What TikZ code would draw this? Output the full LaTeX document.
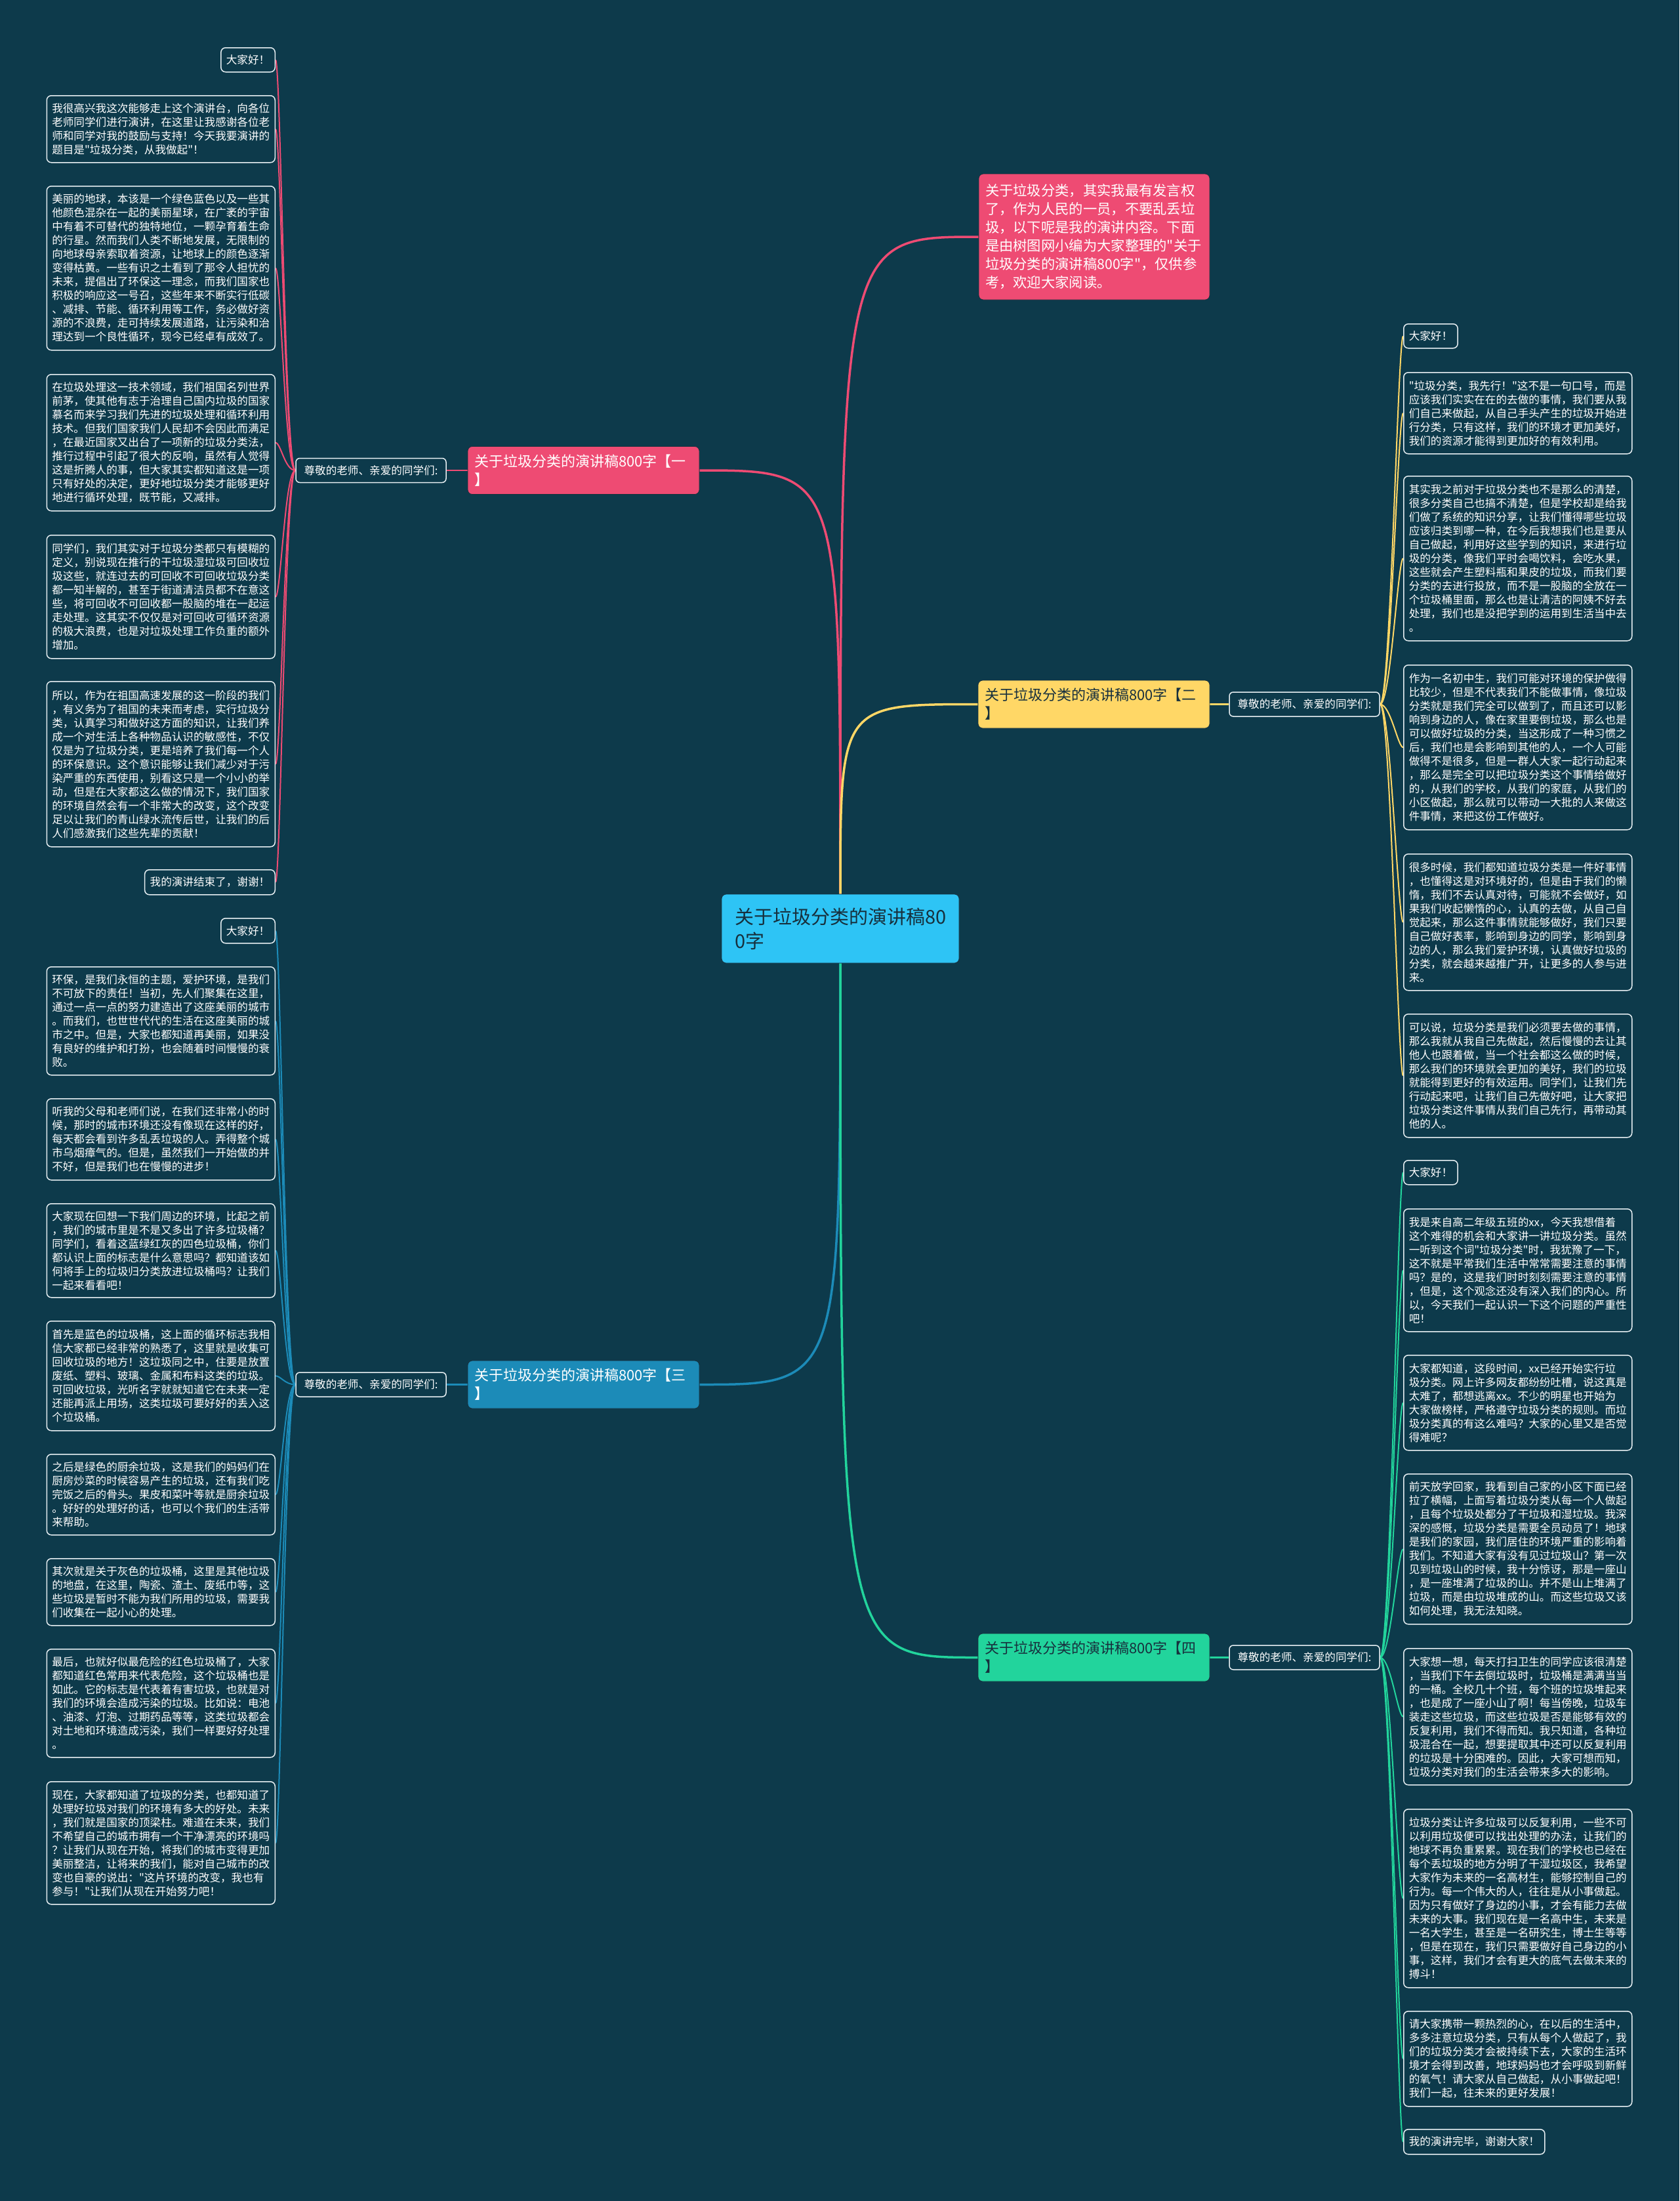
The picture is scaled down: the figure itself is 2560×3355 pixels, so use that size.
\documentclass[tikz,border=0pt]{standalone}
\usepackage{fontspec}
\setmainfont{Noto Sans CJK SC}[Ligatures=TeXOff]
\usetikzlibrary{calc}
\definecolor{bgc}{HTML}{0D3A4B}
\definecolor{pinkc}{HTML}{EE4B73}
\definecolor{yelc}{HTML}{FFD766}
\definecolor{bluec}{HTML}{1C8BB8}
\definecolor{greenc}{HTML}{22D49C}
\definecolor{cyanc}{HTML}{2EC4F5}
\definecolor{darktext}{HTML}{17303D}
\definecolor{leafline}{HTML}{E6EEF2}
\newcommand\leaffont{\fontsize{16.6}{21}\selectfont}
\newcommand\branchfont{\fontsize{22}{28}\selectfont}
\newcommand\introfont{\fontsize{21.3}{28}\selectfont}
\newcommand\centerfont{\fontsize{29}{37}\selectfont}
\pgfdeclarelayer{bg}
\pgfdeclarelayer{edges}
\pgfsetlayers{bg,edges,main}
\tikzset{
  leafbox/.style={draw=leafline, line width=1.5pt, rounded corners=7pt, fill=bgc, text=white, font=\leaffont, align=left, inner xsep=8pt, inner ysep=3pt},
  wide/.style={text width=332pt},
  labbox/.style={draw=leafline, line width=1.5pt, rounded corners=6pt, fill=bgc, text=white, font=\leaffont, inner xsep=8pt, minimum height=37pt, minimum width=229pt},
  branchbox/.style={rounded corners=7pt, draw=darktext, line width=0.8pt, font=\branchfont, align=left, text width=333pt, inner xsep=10pt, minimum height=73pt},
  mainln/.style={line width=3.5pt},
  subln/.style={line width=2.5pt},
  leafln/.style={line width=2pt}
}
\begin{document}
\begin{tikzpicture}[x=1pt,y=-1pt]
\begin{pgfonlayer}{bg}
\fill[bgc] (0,0) rectangle (2560,3355);
\end{pgfonlayer}
\useasboundingbox (0,0) rectangle (2560,3355);

% center and intro
\node[rounded corners=7pt, draw=darktext, line width=0.8pt, fill=cyanc, text=darktext, font=\centerfont, align=left, text width=322pt, inner xsep=20pt, minimum height=105pt] (c) at (1281,1415.5) {关于垃圾分类的演讲稿80\\0字};
\node[rounded corners=7pt, draw=darktext, line width=0.8pt, fill=pinkc, text=white, font=\introfont, align=left, text width=332pt, inner xsep=10pt, minimum height=192pt] (intro) at (1668,361) {关于垃圾分类，其实我最有发言权\\了，作为人民的一员，不要乱丢垃\\圾，以下呢是我的演讲内容。下面\\是由树图网小编为大家整理的"关于\\垃圾分类的演讲稿800字"，仅供参\\考，欢迎大家阅读。};

% branches
\node[branchbox, fill=pinkc, text=white] (b1) at (889.5,717) {关于垃圾分类的演讲稿800字【一\\】};
\node[branchbox, fill=yelc, text=darktext] (b2) at (1667.5,1073.5) {关于垃圾分类的演讲稿800字【二\\】};
\node[branchbox, fill=bluec, text=white] (b3) at (889.5,2110.5) {关于垃圾分类的演讲稿800字【三\\】};
\node[branchbox, fill=greenc, text=darktext] (b4) at (1667.5,2526.5) {关于垃圾分类的演讲稿800字【四\\】};

% sub labels
\node[labbox] (lab1) at (565.5,717) {尊敬的老师、亲爱的同学们:};
\node[labbox] (lab2) at (1988.5,1073.5) {尊敬的老师、亲爱的同学们:};
\node[labbox] (lab3) at (565.5,2110.5) {尊敬的老师、亲爱的同学们:};
\node[labbox] (lab4) at (1988.5,2526.5) {尊敬的老师、亲爱的同学们:};

% left column, branch 1
\node[leafbox, anchor=north east, minimum height=37pt] (l1a) at (420,72) {大家好！};
\node[leafbox, wide, anchor=north east, minimum height=102pt] (l1b) at (420,145) {我很高兴我这次能够走上这个演讲台，向各位\\老师同学们进行演讲，在这里让我感谢各位老\\师和同学对我的鼓励与支持！今天我要演讲的\\题目是"垃圾分类，从我做起"！};
\node[leafbox, wide, anchor=north east, minimum height=250pt] (l1c) at (420,283) {美丽的地球，本该是一个绿色蓝色以及一些其\\他颜色混杂在一起的美丽星球，在广袤的宇宙\\中有着不可替代的独特地位，一颗孕育着生命\\的行星。然而我们人类不断地发展，无限制的\\向地球母亲索取着资源，让地球上的颜色逐渐\\变得枯黄。一些有识之士看到了那令人担忧的\\未来，提倡出了环保这一理念，而我们国家也\\积极的响应这一号召，这些年来不断实行低碳\\、减排、节能、循环利用等工作，务必做好资\\源的不浪费，走可持续发展道路，让污染和治\\理达到一个良性循环，现今已经卓有成效了。};
\node[leafbox, wide, anchor=north east, minimum height=208pt] (l1d) at (420,570) {在垃圾处理这一技术领域，我们祖国名列世界\\前茅，使其他有志于治理自己国内垃圾的国家\\慕名而来学习我们先进的垃圾处理和循环利用\\技术。但我们国家我们人民却不会因此而满足\\，在最近国家又出台了一项新的垃圾分类法，\\推行过程中引起了很大的反响，虽然有人觉得\\这是折腾人的事，但大家其实都知道这是一项\\只有好处的决定，更好地垃圾分类才能够更好\\地进行循环处理，既节能，又减排。};
\node[leafbox, wide, anchor=north east, minimum height=188pt] (l1e) at (420,815) {同学们，我们其实对于垃圾分类都只有模糊的\\定义，别说现在推行的干垃圾湿垃圾可回收垃\\圾这些，就连过去的可回收不可回收垃圾分类\\都一知半解的，甚至于街道清洁员都不在意这\\些，将可回收不可回收都一股脑的堆在一起运\\走处理。这其实不仅仅是对可回收可循环资源\\的极大浪费，也是对垃圾处理工作负重的额外\\增加。};
\node[leafbox, wide, anchor=north east, minimum height=252pt] (l1f) at (420,1038) {所以，作为在祖国高速发展的这一阶段的我们\\，有义务为了祖国的未来而考虑，实行垃圾分\\类，认真学习和做好这方面的知识，让我们养\\成一个对生活上各种物品认识的敏感性，不仅\\仅是为了垃圾分类，更是培养了我们每一个人\\的环保意识。这个意识能够让我们减少对于污\\染严重的东西使用，别看这只是一个小小的举\\动，但是在大家都这么做的情况下，我们国家\\的环境自然会有一个非常大的改变，这个改变\\足以让我们的青山绿水流传后世，让我们的后\\人们感激我们这些先辈的贡献！};
\node[leafbox, anchor=north east, minimum height=38pt] (l1g) at (420,1325) {我的演讲结束了，谢谢！};

% left column, branch 3
\node[leafbox, anchor=north east, minimum height=38pt] (l3a) at (420,1399) {大家好！};
\node[leafbox, wide, anchor=north east, minimum height=165pt] (l3b) at (420,1473) {环保，是我们永恒的主题，爱护环境，是我们\\不可放下的责任！当初，先人们聚集在这里，\\通过一点一点的努力建造出了这座美丽的城市\\。而我们，也世世代代的生活在这座美丽的城\\市之中。但是，大家也都知道再美丽，如果没\\有良好的维护和打扮，也会随着时间慢慢的衰\\败。};
\node[leafbox, wide, anchor=north east, minimum height=124pt] (l3c) at (420,1674) {听我的父母和老师们说，在我们还非常小的时\\候，那时的城市环境还没有像现在这样的好，\\每天都会看到许多乱丢垃圾的人。弄得整个城\\市乌烟瘴气的。但是，虽然我们一开始做的并\\不好，但是我们也在慢慢的进步！};
\node[leafbox, wide, anchor=north east, minimum height=143pt] (l3d) at (420,1834) {大家现在回想一下我们周边的环境，比起之前\\，我们的城市里是不是又多出了许多垃圾桶？\\同学们，看着这蓝绿红灰的四色垃圾桶，你们\\都认识上面的标志是什么意思吗？都知道该如\\何将手上的垃圾归分类放进垃圾桶吗？让我们\\一起来看看吧！};
\node[leafbox, wide, anchor=north east, minimum height=167pt] (l3e) at (420,2013) {首先是蓝色的垃圾桶，这上面的循环标志我相\\信大家都已经非常的熟悉了，这里就是收集可\\回收垃圾的地方！这垃圾同之中，住要是放置\\废纸、塑料、玻璃、金属和布料这类的垃圾。\\可回收垃圾，光听名字就就知道它在未来一定\\还能再派上用场，这类垃圾可要好好的丢入这\\个垃圾桶。};
\node[leafbox, wide, anchor=north east, minimum height=123pt] (l3f) at (420,2216) {之后是绿色的厨余垃圾，这是我们的妈妈们在\\厨房炒菜的时候容易产生的垃圾，还有我们吃\\完饭之后的骨头。果皮和菜叶等就是厨余垃圾\\。好好的处理好的话，也可以个我们的生活带\\来帮助。};
\node[leafbox, wide, anchor=north east, minimum height=102pt] (l3g) at (420,2375) {其次就是关于灰色的垃圾桶，这里是其他垃圾\\的地盘，在这里，陶瓷、渣土、废纸巾等，这\\些垃圾是暂时不能为我们所用的垃圾，需要我\\们收集在一起小心的处理。};
\node[leafbox, wide, anchor=north east, minimum height=165pt] (l3h) at (420,2513) {最后，也就好似最危险的红色垃圾桶了，大家\\都知道红色常用来代表危险，这个垃圾桶也是\\如此。它的标志是代表着有害垃圾，也就是对\\我们的环境会造成污染的垃圾。比如说：电池\\、油漆、灯泡、过期药品等等，这类垃圾都会\\对土地和环境造成污染，我们一样要好好处理\\。};
\node[leafbox, wide, anchor=north east, minimum height=187pt] (l3i) at (420,2715) {现在，大家都知道了垃圾的分类，也都知道了\\处理好垃圾对我们的环境有多大的好处。未来\\，我们就是国家的顶梁柱。难道在未来，我们\\不希望自己的城市拥有一个干净漂亮的环境吗\\？让我们从现在开始，将我们的城市变得更加\\美丽整洁，让将来的我们，能对自己城市的改\\变也自豪的说出："这片环境的改变，我也有\\参与！"让我们从现在开始努力吧！};

% right column, branch 2
\node[leafbox, anchor=north west, minimum height=37pt] (r2a) at (2139,493) {大家好！};
\node[leafbox, wide, anchor=north west, minimum height=124pt] (r2b) at (2139,567) {"垃圾分类，我先行！"这不是一句口号，而是\\应该我们实实在在的去做的事情，我们要从我\\们自己来做起，从自己手头产生的垃圾开始进\\行分类，只有这样，我们的环境才更加美好，\\我们的资源才能得到更加好的有效利用。};
\node[leafbox, wide, anchor=north west, minimum height=251pt] (r2c) at (2139,725) {其实我之前对于垃圾分类也不是那么的清楚，\\很多分类自己也搞不清楚，但是学校却是给我\\们做了系统的知识分享，让我们懂得哪些垃圾\\应该归类到哪一种，在今后我想我们也是要从\\自己做起，利用好这些学到的知识，来进行垃\\圾的分类，像我们平时会喝饮料，会吃水果，\\这些就会产生塑料瓶和果皮的垃圾，而我们要\\分类的去进行投放，而不是一股脑的全放在一\\个垃圾桶里面，那么也是让清洁的阿姨不好去\\处理，我们也是没把学到的运用到生活当中去\\。};
\node[leafbox, wide, anchor=north west, minimum height=251pt] (r2d) at (2139,1013) {作为一名初中生，我们可能对环境的保护做得\\比较少，但是不代表我们不能做事情，像垃圾\\分类就是我们完全可以做到了，而且还可以影\\响到身边的人，像在家里要倒垃圾，那么也是\\可以做好垃圾的分类，当这形成了一种习惯之\\后，我们也是会影响到其他的人，一个人可能\\做得不是很多，但是一群人大家一起行动起来\\，那么是完全可以把垃圾分类这个事情给做好\\的，从我们的学校，从我们的家庭，从我们的\\小区做起，那么就可以带动一大批的人来做这\\件事情，来把这份工作做好。};
\node[leafbox, wide, anchor=north west, minimum height=208pt] (r2e) at (2139,1301) {很多时候，我们都知道垃圾分类是一件好事情\\，也懂得这是对环境好的，但是由于我们的懒\\惰，我们不去认真对待，可能就不会做好，如\\果我们收起懒惰的心，认真的去做，从自己自\\觉起来，那么这件事情就能够做好，我们只要\\自己做好表率，影响到身边的同学，影响到身\\边的人，那么我们爱护环境，认真做好垃圾的\\分类，就会越来越推广开，让更多的人参与进\\来。};
\node[leafbox, wide, anchor=north west, minimum height=188pt] (r2f) at (2139,1545) {可以说，垃圾分类是我们必须要去做的事情，\\那么我就从我自己先做起，然后慢慢的去让其\\他人也跟着做，当一个社会都这么做的时候，\\那么我们的环境就会更加的美好，我们的垃圾\\就能得到更好的有效运用。同学们，让我们先\\行动起来吧，让我们自己先做好吧，让大家把\\垃圾分类这件事情从我们自己先行，再带动其\\他的人。};

% right column, branch 4
\node[leafbox, anchor=north west, minimum height=37pt] (r4a) at (2139,1768) {大家好！};
\node[leafbox, wide, anchor=north west, minimum height=187pt] (r4b) at (2139,1842) {我是来自高二年级五班的xx，今天我想借着\\这个难得的机会和大家讲一讲垃圾分类。虽然\\一听到这个词"垃圾分类"时，我犹豫了一下，\\这不就是平常我们生活中常常需要注意的事情\\吗？是的，这是我们时时刻刻需要注意的事情\\，但是，这个观念还没有深入我们的内心。所\\以，今天我们一起认识一下这个问题的严重性\\吧！};
\node[leafbox, wide, anchor=north west, minimum height=145pt] (r4c) at (2139,2065) {大家都知道，这段时间，xx已经开始实行垃\\圾分类。网上许多网友都纷纷吐槽，说这真是\\太难了，都想逃离xx。不少的明星也开始为\\大家做榜样，严格遵守垃圾分类的规则。而垃\\圾分类真的有这么难吗？大家的心里又是否觉\\得难呢？};
\node[leafbox, wide, anchor=north west, minimum height=229pt] (r4d) at (2139,2246) {前天放学回家，我看到自己家的小区下面已经\\拉了横幅，上面写着垃圾分类从每一个人做起\\，且每个垃圾处都分了干垃圾和湿垃圾。我深\\深的感慨，垃圾分类是需要全员动员了！地球\\是我们的家园，我们居住的环境严重的影响着\\我们。不知道大家有没有见过垃圾山？第一次\\见到垃圾山的时候，我十分惊讶，那是一座山\\，是一座堆满了垃圾的山。并不是山上堆满了\\垃圾，而是由垃圾堆成的山。而这些垃圾又该\\如何处理，我无法知晓。};
\node[leafbox, wide, anchor=north west, minimum height=208pt] (r4e) at (2139,2512) {大家想一想，每天打扫卫生的同学应该很清楚\\，当我们下午去倒垃圾时，垃圾桶是满满当当\\的一桶。全校几十个班，每个班的垃圾堆起来\\，也是成了一座小山了啊！每当傍晚，垃圾车\\装走这些垃圾，而这些垃圾是否是能够有效的\\反复利用，我们不得而知。我只知道，各种垃\\圾混合在一起，想要提取其中还可以反复利用\\的垃圾是十分困难的。因此，大家可想而知，\\垃圾分类对我们的生活会带来多大的影响。};
\node[leafbox, wide, anchor=north west, minimum height=272pt] (r4f) at (2139,2757) {垃圾分类让许多垃圾可以反复利用，一些不可\\以利用垃圾便可以找出处理的办法，让我们的\\地球不再负重累累。现在我们的学校也已经在\\每个丢垃圾的地方分明了干湿垃圾区，我希望\\大家作为未来的一名高材生，能够控制自己的\\行为。每一个伟大的人，往往是从小事做起。\\因为只有做好了身边的小事，才会有能力去做\\未来的大事。我们现在是一名高中生，未来是\\一名大学生，甚至是一名研究生，博士生等等\\，但是在现在，我们只需要做好自己身边的小\\事，这样，我们才会有更大的底气去做未来的\\搏斗！};
\node[leafbox, wide, anchor=north west, minimum height=145pt] (r4g) at (2139,3065) {请大家携带一颗热烈的心，在以后的生活中，\\多多注意垃圾分类，只有从每个人做起了，我\\们的垃圾分类才会被持续下去，大家的生活环\\境才会得到改善，地球妈妈也才会呼吸到新鲜\\的氧气！请大家从自己做起，从小事做起吧！\\我们一起，往未来的更好发展！};
\node[leafbox, anchor=north west, minimum height=38pt] (r4h) at (2139,3245) {我的演讲完毕，谢谢大家！};

% connectors
\begin{pgfonlayer}{edges}
\draw[pinkc, mainln] (c.north) .. controls (c.north |- intro.west) .. (intro.west);
\draw[pinkc, mainln] (c.north) .. controls (c.north |- b1.east) .. (b1.east);
\draw[yelc, mainln] (c.north) .. controls (c.north |- b2.west) .. (b2.west);
\draw[bluec, mainln] (c.south) .. controls (c.south |- b3.east) .. (b3.east);
\draw[greenc, mainln] (c.south) .. controls (c.south |- b4.west) .. (b4.west);
\draw[pinkc, subln] (b1.west) -- (lab1.east);
\draw[yelc, subln] (b2.east) -- (lab2.west);
\draw[bluec, subln] (b3.west) -- (lab3.east);
\draw[greenc, subln] (b4.east) -- (lab4.west);
\foreach \n in {l1a,l1b,l1c,l1d,l1e,l1f,l1g}
  \draw[pinkc, leafln] (lab1.west) .. controls ([xshift=-16pt]lab1.west) and ([xshift=8pt]\n.east) .. (\n.east);
\foreach \n in {l3a,l3b,l3c,l3d,l3e,l3f,l3g,l3h,l3i}
  \draw[bluec, leafln] (lab3.west) .. controls ([xshift=-16pt]lab3.west) and ([xshift=8pt]\n.east) .. (\n.east);
\foreach \n in {r2a,r2b,r2c,r2d,r2e,r2f}
  \draw[yelc, leafln] (lab2.east) .. controls ([xshift=16pt]lab2.east) and ([xshift=-8pt]\n.west) .. (\n.west);
\foreach \n in {r4a,r4b,r4c,r4d,r4e,r4f,r4g,r4h}
  \draw[greenc, leafln] (lab4.east) .. controls ([xshift=16pt]lab4.east) and ([xshift=-8pt]\n.west) .. (\n.west);
\end{pgfonlayer}
\end{tikzpicture}
\end{document}
